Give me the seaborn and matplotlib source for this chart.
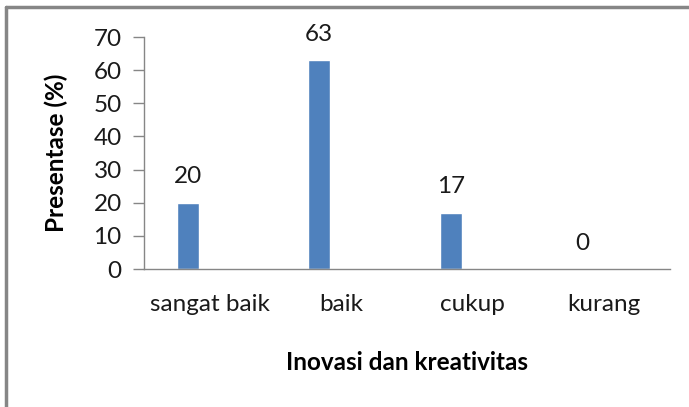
import matplotlib
matplotlib.use("Agg")
import matplotlib.pyplot as plt
from matplotlib.lines import Line2D
import seaborn as sns
import pandas as pd

categories = ["sangat baik", "baik", "cukup", "kurang"]
values = [20, 63, 17, 0]
series = ["s1", "s2", "s3"]

sns.set_theme(style="white")
plt.rcParams["font.family"] = ["Lato", "DejaVu Sans"]

rows = []
for c, v in zip(categories, values):
    rows.append({"cat": c, "val": v, "ser": "s1"})
    rows.append({"cat": c, "val": float("nan"), "ser": "s2"})
    rows.append({"cat": c, "val": float("nan"), "ser": "s3"})
df = pd.DataFrame(rows)

FS = 17.5
fig = plt.figure(figsize=(6.89, 4.07), dpi=100)
ax = fig.add_axes([0.209, 0.339, 0.763, 0.570])
sns.barplot(data=df, x="cat", y="val", hue="ser", hue_order=series,
            order=categories, width=0.5, palette=["#4F81BD"] * 3,
            saturation=1, legend=False, ax=ax, errorbar=None)

for cont in ax.containers:
    lbls = []
    for b in cont:
        h = b.get_height()
        lbls.append("" if h != h else f"{h:.0f}")
    ax.bar_label(cont, labels=lbls, padding=11, fontsize=FS, color="#1a1a1a")

ax.set_ylim(0, 70)
ax.set_xlim(-0.5, 3.5)
ax.set_yticks(range(0, 71, 10))
ax.tick_params(axis="y", length=8, width=1, color="#868686", labelsize=FS,
               labelcolor="#1a1a1a", pad=8, left=True)
ax.tick_params(axis="x", length=0, labelsize=FS, labelcolor="#1a1a1a", pad=18)
for s in ["top", "right"]:
    ax.spines[s].set_visible(False)
for s in ["left", "bottom"]:
    ax.spines[s].set_color("#868686")
    ax.spines[s].set_linewidth(1)
ax.set_xlabel("Inovasi dan kreativitas",
              fontsize=FS, fontweight="bold", labelpad=26, color="#000000")
ax.set_ylabel("Presentase (%)", fontsize=FS, fontweight="bold", labelpad=18,
              color="#000000")

fig.add_artist(Line2D([0.008, 1.0], [0.982, 0.982], color="#868686", lw=2.5,
                      transform=fig.transFigure))
fig.add_artist(Line2D([0.009, 0.009], [0.0, 0.982], color="#868686", lw=2.5,
                      transform=fig.transFigure))

fig.savefig("out.png", dpi=100)
